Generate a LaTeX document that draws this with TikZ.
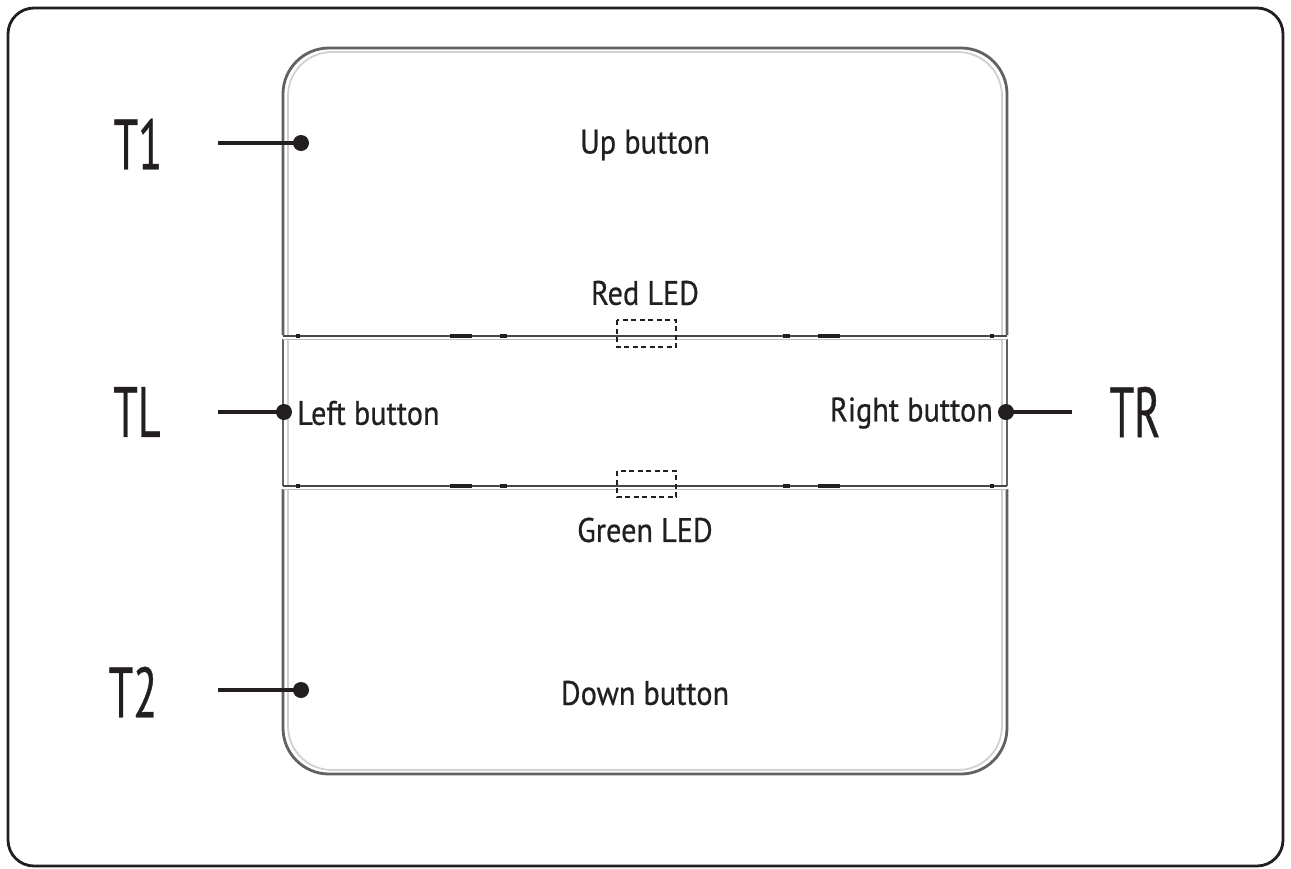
\documentclass[tikz,border=0pt]{standalone}
\usepackage{fontspec}
\setmainfont{PT Sans}[FakeStretch=0.89,FakeBold=0.6]
\newfontfamily\bigfont{PT Sans}[FakeStretch=0.62,FakeBold=0.5]
\definecolor{ink}{HTML}{231F20}
\begin{document}
\begin{tikzpicture}[x=1pt,y=-1pt,
  lbl/.style={text=ink,inner sep=0pt,font=\fontsize{34}{38}\selectfont},
  big/.style={text=ink,inner sep=0pt,font=\bigfont\fontsize{71}{75}\selectfont},
  lead/.style={draw=ink,line width=3.2pt},
  pin/.style={fill=ink},
  edge/.style={draw=black!62,line width=2.8pt},
  edgein/.style={draw=black!18,line width=1.8pt},
  ledbox/.style={draw=ink,line width=2.1pt,dash pattern=on 5pt off 3.5pt}]
\useasboundingbox (0,0) rectangle (1291,868);
\fill[white] (0,0) rectangle (1291,868);
% outer frame
\draw[ink,line width=2.8pt,rounded corners=26pt] (8,8) rectangle (1283,866);
% device body: top piece
\draw[edgein,rounded corners=44pt] (288,335) -- (288,52) -- (1002,52) -- (1002,335);
\draw[edge,rounded corners=46pt] (283,335) -- (283,48) -- (1007,48) -- (1007,335);
% middle piece
\draw[edgein] (288,339) -- (288,485);
\draw[edgein] (1002,339) -- (1002,485);
\draw[edge] (283,339) -- (283,486);
\draw[edge] (1007,339) -- (1007,486);
% bottom piece
\draw[edgein,rounded corners=44pt] (288,489) -- (288,770) -- (1002,770) -- (1002,489);
\draw[edge,rounded corners=46pt] (283,489) -- (283,774) -- (1007,774) -- (1007,489);
% separators
\draw[black!72,line width=1.8pt] (283,336) -- (1007,336);
\draw[black!25,line width=1pt] (283,339.5) -- (1007,339.5);
\draw[black!72,line width=1.8pt] (283,486) -- (1007,486);
\draw[black!25,line width=1pt] (283,489) -- (1007,489);
% dark ticks on separators
\foreach \y in {336,486}{
  \fill[ink] (450,\y-2) rectangle (472,\y+2);
  \fill[ink] (500,\y-2) rectangle (507,\y+2);
  \fill[ink] (818,\y-2) rectangle (840,\y+2);
  \fill[ink] (783,\y-2) rectangle (790,\y+2);
  \fill[ink] (296,\y-2) rectangle (300,\y+2);
  \fill[ink] (990,\y-2) rectangle (994,\y+2);
}
% LED boxes
\draw[ledbox] (617,320) rectangle (676,347);
\draw[ledbox] (617,471) rectangle (676,497);
% labels inside
\node[lbl] (up) at (645,145) {Up button};
\node[lbl] (red) at (645,293) {Red LED};
\node[lbl,anchor=west] (left) at (297,413) {Left button};
\node[lbl,anchor=east] (right) at (993,413) {Right button};
\node[lbl] (green) at (645,530) {Green LED};
\node[lbl] (down) at (645,693) {Down button};
% big labels
\node[big] (T1) at (138,144) {T1};
\node[big] (TL) at (137,412) {TL};
\node[big] (TR) at (1135,412) {TR};
\node[big] (T2) at (133,692) {T2};
% leaders
\coordinate (a1) at (218,143); \coordinate (d1) at (301,143);
\coordinate (aL) at (218,412); \coordinate (dL) at (284,412);
\coordinate (aR) at (1072,412); \coordinate (dR) at (1006,412);
\coordinate (a2) at (218,690); \coordinate (d2) at (301,690);
\draw[lead] (a1) -- (d1); \fill[pin] (d1) circle (8pt);
\draw[lead] (aL) -- (dL); \fill[pin] (dL) circle (8pt);
\draw[lead] (aR) -- (dR); \fill[pin] (dR) circle (8pt);
\draw[lead] (a2) -- (d2); \fill[pin] (d2) circle (8pt);
\end{tikzpicture}
\end{document}
